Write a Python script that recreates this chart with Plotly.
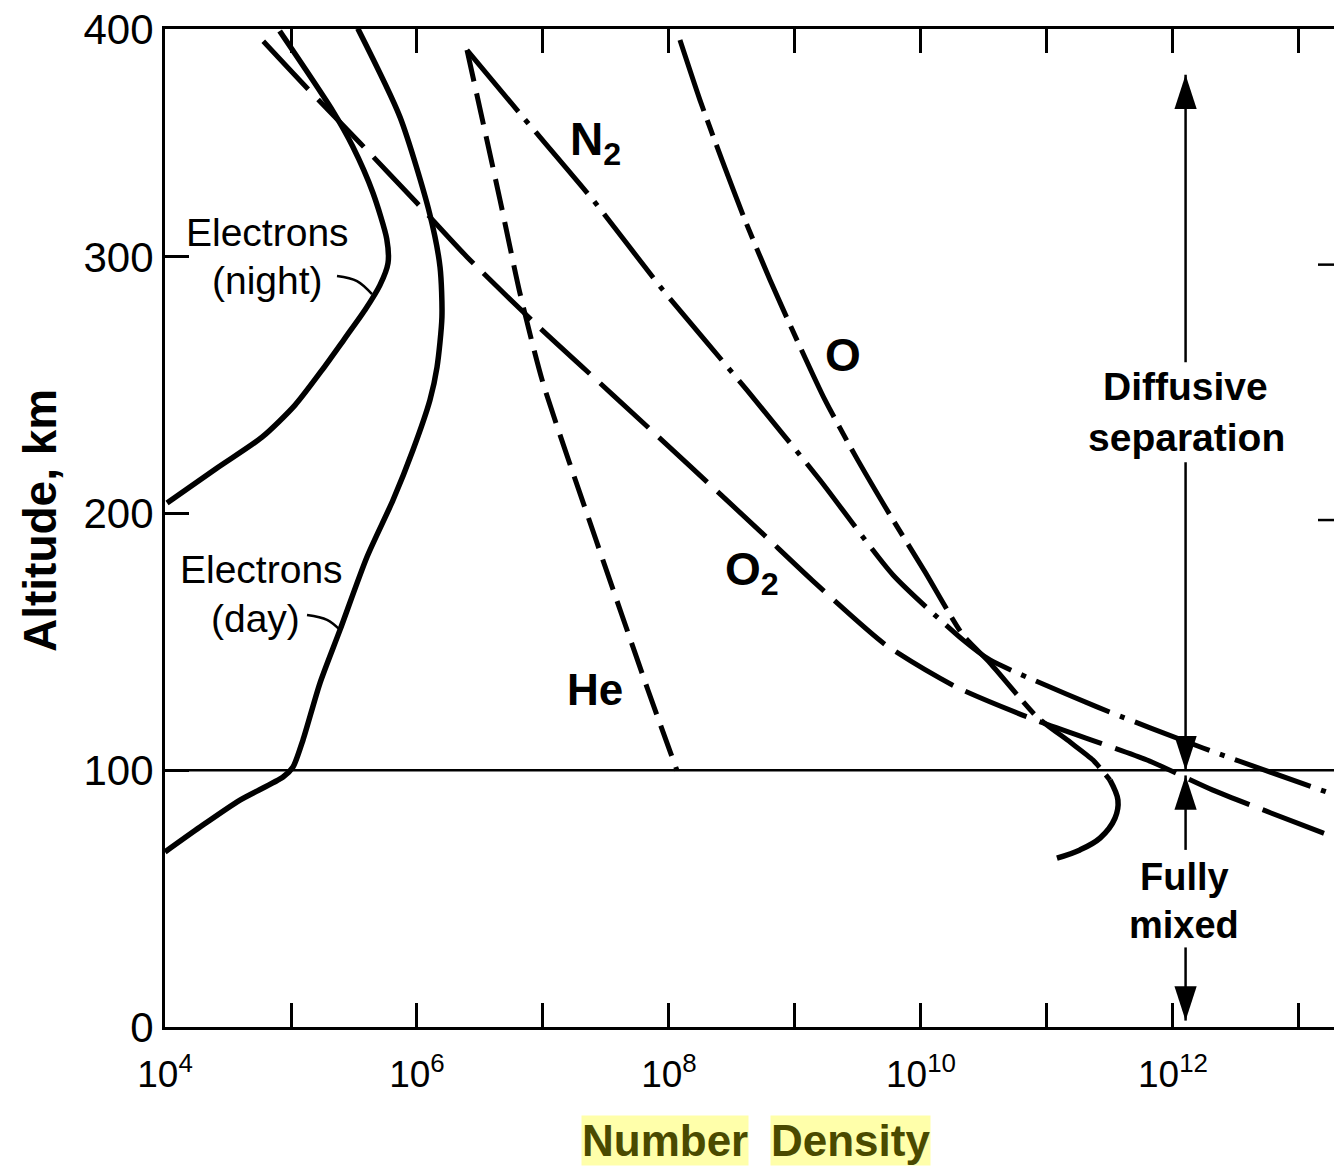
import numpy as np
import plotly.graph_objects as go

FONT = "Liberation Sans, Arial, Helvetica, sans-serif"
INK = "black"

# ---- data (log10 of number density, altitude [km]) ----
e_night_logn = [4.91, 5.33, 5.49, 5.65, 5.76, 5.77, 5.706, 5.587, 5.429, 5.246, 5.032,
                4.77, 4.413, 4.016]
e_night_alt = [388, 357, 343, 325, 307, 297.6, 289.0, 279.3, 268.4, 255.9, 242.3,
               229.8, 217.8, 204.1]

e_day_logn = [5.53, 5.865, 6.10, 6.183, 6.198, 6.159, 6.103, 5.968, 5.81, 5.603, 5.389,
              5.23, 5.095, 5.016, 4.937, 4.595, 4.278, 4.00]
e_day_alt = [389, 354.5, 317, 296, 276.6, 257.1, 244.3, 224.8, 205.3, 183.1, 154.7,
             134.0, 111.8, 101.3, 97.4, 88.4, 77.9, 68.2]

he_logn = [6.397, 6.659, 6.817, 7.00, 7.421, 7.833, 8.063]
he_alt = [380.6, 322.2, 285.9, 250.9, 189.7, 131.3, 100.0]

n2_logn = [6.397, 6.841, 7.397, 7.952, 8.619, 9.198, 9.778, 10.333, 10.548, 11.397,
           12.238, 13.222, 13.30]
n2_alt = [380.6, 354.5, 322.2, 287.1, 248.1, 213.1, 176.1, 150.8, 143.0, 124.7,
          108.7, 91.5, 90.2]

o2_logn = [4.78, 5.127, 5.548, 6.00, 6.397, 6.976, 7.556, 8.167, 8.722, 9.135, 9.722,
           10.278, 10.905, 11.794, 12.317, 13.19, 13.30]
o2_alt = [384, 365.8, 344.4, 321.0, 300.0, 272.3, 246.2, 218.5, 193.2, 174.1, 148.8,
          132.5, 119.6, 104.0, 92.3, 75.6, 73.5]

o_logn = [8.087, 8.246, 8.421, 8.603, 8.802, 9.016, 9.238, 9.476, 9.754, 10.032,
          10.333, 10.548, 10.921, 11.183, 11.365, 11.50]
o_alt = [384.5, 361.1, 337.7, 314.4, 291.0, 267.6, 244.3, 222.8, 199.5, 177.3,
         152.7, 141.8, 120.8, 111.0, 104.0, 96.2]
o_low_logn = [11.50, 11.563, 11.54, 11.421, 11.262, 11.079]
o_low_alt = [96.2, 88.4, 81.4, 73.6, 69.0, 65.8]

# leader lines of the electron labels
night_leader_logn = [5.365, 5.524, 5.643]
night_leader_alt = [292.6, 290.6, 285.5]
day_leader_logn = [5.127, 5.286, 5.389]
day_leader_alt = [160.5, 158.6, 154.7]

# boundary between fully mixed and diffusive-separation regimes
turbopause_alt = 100
arrow_logn = 12.10
arrow_tails = [259, 220, 69, 31]
arrow_tips = [371, 100, 98, 2.5]

x_label_exp = [4, 6, 8, 10, 12]
x_minor_exp = [5, 7, 9, 11, 13]
y_tick_vals = [0, 100, 200, 300, 388.8]
y_tick_text = ["0", "100", "200", "300", "400"]
right_tick_alt = [297, 197.5]


def X(v):
    return 10 ** np.asarray(v, dtype=float)


fig = go.Figure()

solid = dict(color=INK, width=5.5)
fig.add_trace(go.Scatter(x=X(e_night_logn), y=e_night_alt, mode="lines",
                         line=dict(**solid, shape="spline", smoothing=0.7)))
fig.add_trace(go.Scatter(x=X(e_day_logn), y=e_day_alt, mode="lines",
                         line=dict(**solid, shape="spline", smoothing=0.7)))
fig.add_trace(go.Scatter(x=X(he_logn), y=he_alt, mode="lines",
                         line=dict(color=INK, width=5, dash="32px,12px",
                                   shape="spline", smoothing=0.6)))
fig.add_trace(go.Scatter(x=X(n2_logn), y=n2_alt, mode="lines",
                         line=dict(color=INK, width=5, dash="80px,11px,5px,11px",
                                   shape="spline", smoothing=0.6)))
fig.add_trace(go.Scatter(x=X(o2_logn), y=o2_alt, mode="lines",
                         line=dict(color=INK, width=5, dash="66px,14px",
                                   shape="spline", smoothing=0.6)))
fig.add_trace(go.Scatter(x=X(o_logn), y=o_alt, mode="lines",
                         line=dict(color=INK, width=5, dash="75px,10px,16px,10px",
                                   shape="spline", smoothing=0.6)))
fig.add_trace(go.Scatter(x=X(o_low_logn), y=o_low_alt, mode="lines",
                         line=dict(color=INK, width=5.5, shape="spline", smoothing=1)))

for lx, ly in [(night_leader_logn, night_leader_alt), (day_leader_logn, day_leader_alt)]:
    fig.add_trace(go.Scatter(x=X(lx), y=ly, mode="lines",
                             line=dict(color=INK, width=2.5, shape="spline")))

# arrows
for t, h in zip(arrow_tails, arrow_tips):
    fig.add_trace(go.Scatter(x=X([arrow_logn, arrow_logn]), y=[t, h], mode="lines",
                             line=dict(color=INK, width=2.5)))
fig.add_trace(go.Scatter(
    x=X([arrow_logn] * len(arrow_tips)), y=arrow_tips, mode="markers",
    marker=dict(symbol="arrow", size=36, color=INK,
                angle=[0 if h > t else 180 for t, h in zip(arrow_tails, arrow_tips)]),
    cliponaxis=False))

fig.add_shape(type="line", xref="paper", x0=0, x1=1, yref="y",
              y0=turbopause_alt, y1=turbopause_alt, line=dict(color=INK, width=2.5))
for yv in right_tick_alt:
    fig.add_shape(type="line", xref="paper", x0=1 - 16 / 1169, x1=1, yref="y",
                  y0=yv, y1=yv, line=dict(color=INK, width=2.5))


def label(text, lx, y, size, bold=False, **kw):
    fig.add_annotation(x=lx, y=y, xref="x", yref="y", text=f"<b>{text}</b>" if bold else text,
                       showarrow=False, font=dict(family=FONT, size=size, color=INK), **kw)


label("Electrons", 4.817, 309.7, 39)
label("(night)", 4.81, 291.0, 39)
label("Electrons", 4.768, 178.4, 39)
label("(day)", 4.722, 159.3, 39)
label("N<sub>2</sub>", 7.413, 344.7, 46, bold=True)
label("O", 9.381, 261.8, 46, bold=True)
label("O<sub>2</sub>", 8.659, 177.2, 46, bold=True)
label("He", 7.413, 131.3, 44, bold=True)
label("Diffusive", 12.103, 249.7, 39, bold=True)
label("separation", 12.11, 229.5, 39, bold=True)
label("Fully", 12.095, 58.4, 38, bold=True)
label("mixed", 12.09, 39.7, 38, bold=True)

# axis titles
fig.add_annotation(xref="paper", yref="paper", x=0, y=0.5, xshift=-125, yshift=7,
                   xanchor="center", yanchor="middle",
                   text="<b>Altitude, km</b>", textangle=-90, showarrow=False,
                   font=dict(family=FONT, size=46, color=INK))
for word, lx in [("Number", 7.968), ("Density", 9.437)]:
    fig.add_annotation(xref="x", yref="paper", x=lx, y=-0.1142, text=f"<b>{word}</b>",
                       xanchor="center", yanchor="middle",
                       showarrow=False, bgcolor="#ffffaa", borderpad=0,
                       font=dict(family=FONT, size=44, color="#4a4a00"))

fig.update_xaxes(type="log", range=[4, 13.278], showline=True, linecolor=INK, linewidth=3,
                 mirror="ticks", ticks="inside", ticklen=24, tickwidth=2.5, tickcolor=INK,
                 tickvals=X(x_label_exp),
                 ticktext=[f"10<sup>{k}</sup>" for k in x_label_exp],
                 minor=dict(tickvals=X(x_minor_exp), ticks="inside", ticklen=24,
                            tickwidth=2.5, tickcolor=INK, showgrid=False),
                 showgrid=False, zeroline=False,
                 tickfont=dict(family=FONT, size=37, color=INK), ticklabelstandoff=13)
fig.update_yaxes(range=[0, 388.8], showline=True, linecolor=INK, linewidth=3, mirror=False,
                 ticks="inside", ticklen=24, tickwidth=2.5, tickcolor=INK,
                 tickvals=y_tick_vals, ticktext=y_tick_text, showgrid=False, zeroline=False,
                 tickfont=dict(family=FONT, size=42, color=INK))
fig.update_layout(width=1334, height=1170, margin=dict(l=165, r=0, t=29, b=143),
                  plot_bgcolor="white", paper_bgcolor="white", showlegend=False)

fig.write_html("out.html")
